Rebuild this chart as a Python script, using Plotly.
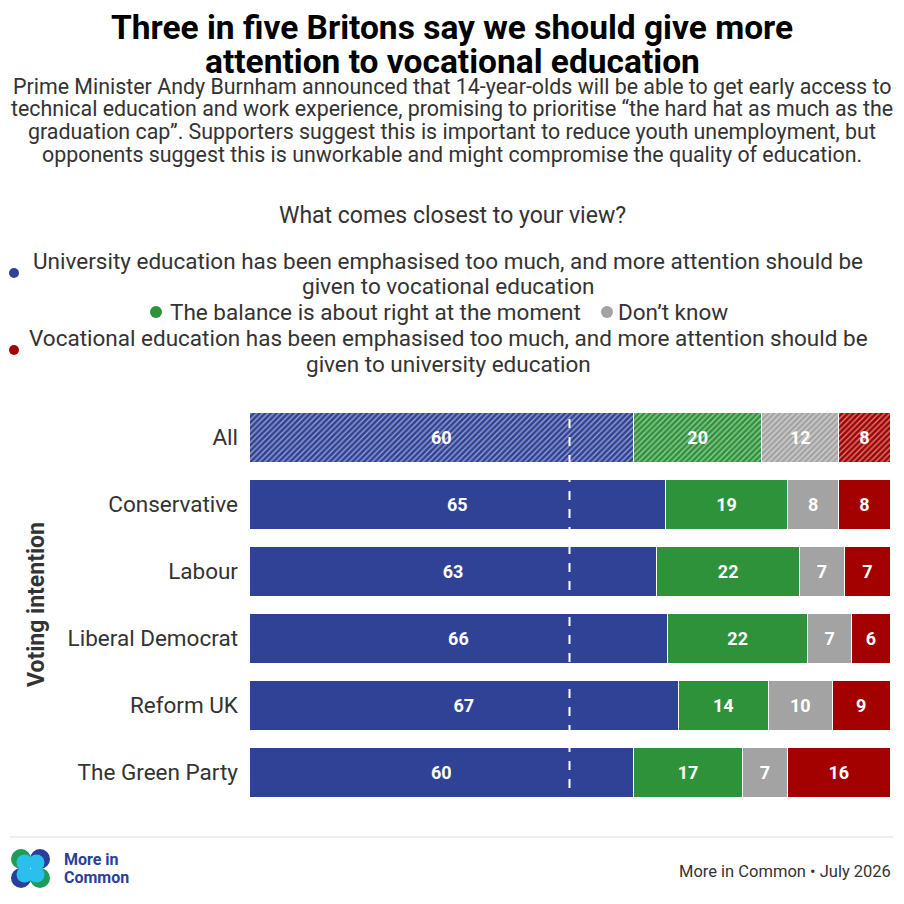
import plotly.graph_objects as go

categories = ["All", "Conservative", "Labour", "Liberal Democrat", "Reform UK", "The Green Party"]
uni_more = [60, 65, 63, 66, 67, 60]
balance_right = [20, 19, 22, 22, 14, 17]
dont_know = [12, 8, 7, 7, 10, 7]
voc_more = [8, 8, 7, 6, 9, 16]

series_names = [
    "University education has been emphasised too much, and more attention should be given to vocational education",
    "The balance is about right at the moment",
    "Don’t know",
    "Vocational education has been emphasised too much, and more attention should be given to university education",
]
series_values = [uni_more, balance_right, dont_know, voc_more]
colors = ["#304296", "#2e923a", "#a3a3a3", "#a30000"]

FONT = "Roboto"
TXT = "#333333"

W, H = 904, 904
L, R, T, B = 249, 890, 404, 806


def px(x):
    return (x - L) / (R - L)


def py(y):
    return (B - y) / (B - T)


totals = [sum(v[i] for v in series_values) for i in range(len(categories))]

fig = go.Figure()
for name, vals, col in zip(series_names, series_values, colors):
    norm = [v / t * 100 for v, t in zip(vals, totals)]
    pshapes = ["/" if c == "All" else "" for c in categories]
    fig.add_trace(go.Bar(
        name=name,
        y=categories,
        x=norm,
        orientation="h",
        width=0.75,
        text=[str(v) for v in vals],
        textposition="inside",
        insidetextanchor="middle",
        textangle=0,
        textfont=dict(family=FONT, size=18, color="white", weight="bold"),
        marker=dict(
            color=col,
            line=dict(color="white", width=1),
            pattern=dict(shape=pshapes, fgcolor="white", bgcolor=col, size=4, solidity=0.35, fillmode="overlay"),
        ),
        hoverinfo="skip",
    ))

shapes = []
shapes.append(dict(type="line", xref="x", yref="paper", x0=50, x1=50, y0=0, y1=1,
                   line=dict(color="white", width=2, dash="dash"), layer="above"))
shapes.append(dict(type="line", xref="paper", yref="paper", x0=px(10), x1=px(893), y0=py(837), y1=py(837),
                   line=dict(color="#dddddd", width=1)))


def dot(cx, cy, col, r=5):
    shapes.append(dict(type="circle", xref="paper", yref="paper",
                       x0=px(cx - r), x1=px(cx + r), y0=py(cy + r), y1=py(cy - r),
                       fillcolor=col, line=dict(width=0)))


dot(14, 273, colors[0])
dot(156, 312, colors[1], 6)
dot(607, 312, colors[2], 6)
dot(14, 350, colors[3])

logo = [(21, 859, "#1f9c55", 1, 1), (40, 859, "#2a3f9b", -1, 1), (21, 878, "#2a3f9b", 1, -1), (40, 878, "#1f9c55", -1, -1)]
for cx, cy, col, dx, dy in logo:
    dot(cx, cy, col, 10)
for cx, cy, col, dx, dy in logo:
    dot(cx + 3.5 * dx, cy + 3.5 * dy, "#2bbfee", 8)

ann = []


def text(x, y, s, size, color=TXT, bold=False, xanchor="center", angle=0):
    ann.append(dict(xref="paper", yref="paper", x=px(x), y=py(y), text=s, showarrow=False,
                    xanchor=xanchor, yanchor="middle", textangle=angle,
                    font=dict(family=FONT, size=size, color=color, weight="bold" if bold else "normal")))


text(452, 27, "Three in five Britons say we should give more", 33.5, "#000000", True)
text(452, 61, "attention to vocational education", 33.5, "#000000", True)
sub = ["Prime Minister Andy Burnham announced that 14-year-olds will be able to get early access to",
       "technical education and work experience, promising to prioritise “the hard hat as much as the",
       "graduation cap”. Supporters suggest this is important to reduce youth unemployment, but",
       "opponents suggest this is unworkable and might compromise the quality of education."]
for i, s in enumerate(sub):
    text(452, 86 + i * 22.8, s, 21.4)
text(452, 215, "What comes closest to your view?", 23)

LEG = 22.5
text(448, 261, "University education has been emphasised too much, and more attention should be", LEG)
text(448, 286, "given to vocational education", LEG)
text(168, 312, "The balance is about right at the moment", LEG, xanchor="left")
text(616, 312, "Don’t know", LEG, xanchor="left")
text(448, 338, "Vocational education has been emphasised too much, and more attention should be", LEG)
text(448, 364, "given to university education", LEG)

text(36, 605, "Voting intention", 23, TXT, True, angle=-90)

text(62, 859, "More in", 16, "#2a3f9b", True, xanchor="left")
text(62, 877, "Common", 16, "#2a3f9b", True, xanchor="left")
text(893, 871, "More in Common • July 2026", 16.5, TXT, xanchor="right")

fig.update_layout(
    width=W, height=H,
    margin=dict(l=L, r=W - R, t=T, b=H - B, pad=0),
    barmode="stack",
    bargap=0.25,
    showlegend=False,
    plot_bgcolor="white",
    paper_bgcolor="white",
    uniformtext=dict(minsize=18, mode="show"),
    shapes=shapes,
    annotations=ann,
    xaxis=dict(range=[0, 100], visible=False, fixedrange=True),
    yaxis=dict(autorange="reversed", showgrid=False, showline=False, zeroline=False, ticks="",
               ticklabelstandoff=10,
               tickfont=dict(family=FONT, size=22.5, color=TXT), fixedrange=True),
)

fig.write_html("out.html", config={"displayModeBar": False},
               post_script="document.body.style.margin='0';document.body.style.overflow='hidden';")
